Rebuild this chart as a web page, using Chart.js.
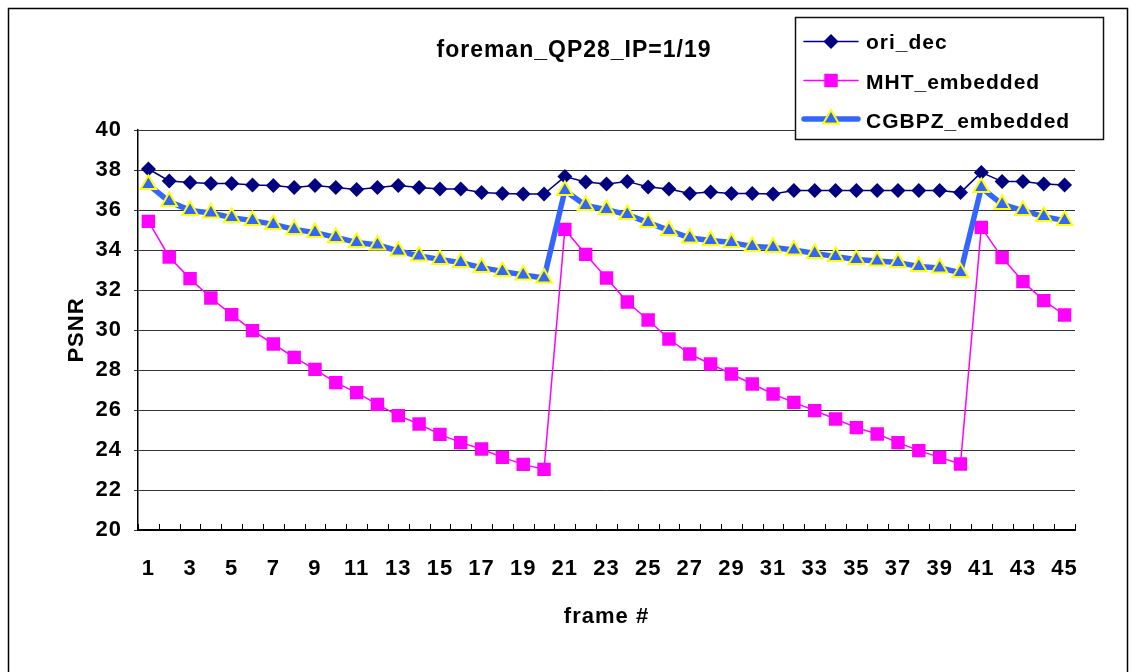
<!DOCTYPE html>
<html>
<head>
<meta charset="utf-8">
<script src="https://cdn.jsdelivr.net/npm/chart.js@4/dist/chart.umd.min.js"></script>
<style>
  html, body { margin: 0; padding: 0; background: #fff; }
  #wrap { position: absolute; left: 0; top: 0; width: 1134px; height: 672px; }
</style>
</head>
<body>
<div id="wrap"><canvas id="psnr" width="1134" height="672"></canvas></div>
<script>
// Frame indices along the x axis
const frames = ['1','2','3','4','5','6','7','8','9','10','11','12','13','14','15',
  '16','17','18','19','20','21','22','23','24','25','26','27','28','29','30',
  '31','32','33','34','35','36','37','38','39','40','41','42','43','44','45'];

// PSNR per frame (dB)
const oriDec = [38.05, 37.45, 37.38, 37.33, 37.33, 37.25, 37.22, 37.13, 37.22, 37.12,
  37.03, 37.13, 37.22, 37.13, 37.05, 37.05, 36.87, 36.83, 36.80, 36.80,
  37.67, 37.40, 37.30, 37.43, 37.15, 37.05, 36.83, 36.90, 36.82, 36.82,
  36.80, 36.98, 36.98, 36.98, 36.98, 36.98, 36.98, 36.98, 36.98, 36.87,
  37.88, 37.42, 37.42, 37.30, 37.25];

const mhtEmbedded = [35.43, 33.65, 32.57, 31.60, 30.77, 29.97, 29.30, 28.63, 28.03, 27.37,
  26.87, 26.28, 25.72, 25.30, 24.78, 24.37, 24.05, 23.63, 23.28, 23.03,
  35.03, 33.78, 32.60, 31.40, 30.50, 29.55, 28.80, 28.30, 27.80, 27.30,
  26.80, 26.38, 25.97, 25.55, 25.12, 24.80, 24.37, 23.97, 23.63, 23.30,
  35.13, 33.62, 32.42, 31.47, 30.75];

const cgbpzEmbedded = [37.27, 36.42, 35.98, 35.85, 35.62, 35.47, 35.28, 35.03, 34.87, 34.63,
  34.38, 34.25, 33.95, 33.70, 33.53, 33.37, 33.12, 32.93, 32.75, 32.60,
  36.97, 36.23, 36.02, 35.77, 35.37, 34.98, 34.60, 34.47, 34.37, 34.18,
  34.12, 34.00, 33.83, 33.67, 33.53, 33.45, 33.37, 33.18, 33.10, 32.87,
  37.12, 36.28, 35.97, 35.67, 35.47];

// Axis settings
const yMin = 20, yMax = 40, yStep = 2;
const chartTitle = 'foreman_QP28_IP=1/19';
const xTitle = 'frame #';
const yTitle = 'PSNR';

const FONT = "'Liberation Sans', Arial, Helvetica, sans-serif";
const SPACING = '1px';
Chart.defaults.font.family = FONT;
Chart.defaults.font.weight = 'bold';
Chart.defaults.color = '#000';

// Slightly wider glyph spacing for all canvas text
const spacingPlugin = {
  id: 'spacing',
  beforeUpdate(chart) { chart.ctx.letterSpacing = SPACING; },
  beforeDraw(chart) { chart.ctx.letterSpacing = SPACING; }
};

// Page frame and chart title
const framePlugin = {
  id: 'frame',
  beforeDraw(chart) {
    const c = chart.ctx;
    c.save();
    c.fillStyle = '#fff';
    c.fillRect(0, 0, chart.width, chart.height);
    c.strokeStyle = '#000';
    c.lineWidth = 1.5;
    c.strokeRect(8.5, 8.5, 1119, 700);
    c.fillStyle = '#000';
    c.font = 'bold 23px ' + FONT;
    c.letterSpacing = SPACING;
    c.textAlign = 'center';
    c.textBaseline = 'alphabetic';
    c.fillText(chartTitle, 574, 57);
    c.restore();
  }
};

// Category tick marks pointing into the plot area
const innerTicksPlugin = {
  id: 'innerTicks',
  afterDatasetsDraw(chart) {
    const xs = chart.scales.x;
    const c = chart.ctx;
    const n = xs.getLabels().length;
    const step = (xs.getPixelForValue(1) - xs.getPixelForValue(0));
    c.save();
    c.strokeStyle = '#000';
    c.lineWidth = 1;
    c.beginPath();
    for (let i = 0; i <= n; i++) {
      const x = Math.round(xs.getPixelForValue(0) - step / 2 + i * step) + 0.5;
      c.moveTo(x, xs.top);
      c.lineTo(x, xs.top - 6);
    }
    c.stroke();
    c.restore();
  }
};

// Boxed legend in the upper right corner
const boxLegendPlugin = {
  id: 'boxLegend',
  afterDraw(chart) {
    const c = chart.ctx;
    const box = { x: 795, y: 17, w: 308, h: 122 };
    const rows = [ { line: 41.5, text: 49 }, { line: 80.5, text: 89 }, { line: 119, text: 128 } ];
    c.save();
    c.fillStyle = '#fff';
    c.fillRect(box.x, box.y, box.w, box.h);
    c.strokeStyle = '#111';
    c.lineWidth = 1.5;
    c.strokeRect(box.x + 0.5, box.y + 0.5, box.w, box.h);
    chart.data.datasets.forEach((ds, i) => {
      const r = rows[i];
      c.strokeStyle = ds.borderColor;
      c.lineWidth = ds.borderWidth;
      c.lineCap = 'round';
      c.beginPath();
      c.moveTo(804, r.line);
      c.lineTo(858, r.line);
      c.stroke();
      c.fillStyle = ds.pointBackgroundColor || ds.backgroundColor;
      c.strokeStyle = ds.pointBorderColor || ds.borderColor;
      c.lineWidth = ds.pointBorderWidth || 0;
      Chart.helpers.drawPoint(c, {
        pointStyle: ds.pointStyle,
        radius: ds.pointRadius,
        rotation: 0,
        borderWidth: ds.pointBorderWidth || 0
      }, 831, r.line);
      c.fillStyle = '#000';
      c.font = 'bold 21px ' + FONT;
      c.letterSpacing = SPACING;
      c.textAlign = 'left';
      c.textBaseline = 'alphabetic';
      c.fillText(ds.label, 866, r.text);
    });
    c.restore();
  }
};

new Chart(document.getElementById('psnr'), {
  type: 'line',
  data: {
    labels: frames,
    datasets: [
      {
        label: 'ori_dec',
        data: oriDec,
        borderColor: '#000080',
        backgroundColor: '#000080',
        pointBackgroundColor: '#000080',
        borderWidth: 1.5,
        pointStyle: 'rectRot',
        pointRadius: 7.5,
        pointBorderWidth: 0,
        tension: 0,
        order: 3
      },
      {
        label: 'MHT_embedded',
        data: mhtEmbedded,
        borderColor: '#ff00ff',
        backgroundColor: '#ff00ff',
        pointBackgroundColor: '#ff00ff',
        borderWidth: 1.5,
        pointStyle: 'rect',
        pointRadius: 9.5,
        pointBorderWidth: 0,
        tension: 0,
        order: 2
      },
      {
        label: 'CGBPZ_embedded',
        data: cgbpzEmbedded,
        borderColor: '#3366ff',
        backgroundColor: '#3366ff',
        pointBackgroundColor: '#3366ff',
        pointBorderColor: '#ffff00',
        borderWidth: 5.5,
        borderJoinStyle: 'round',
        borderCapStyle: 'round',
        pointStyle: 'triangle',
        pointRadius: 9,
        pointBorderWidth: 2,
        tension: 0,
        order: 1
      }
    ]
  },
  options: {
    responsive: false,
    animation: false,
    devicePixelRatio: 1,
    layout: { padding: { left: 0, right: 59, top: 130, bottom: 0 } },
    plugins: {
      legend: { display: false },
      title: { display: false },
      tooltip: { enabled: false }
    },
    scales: {
      x: {
        type: 'category',
        offset: true,
        grid: { display: false, drawTicks: false },
        border: { color: '#000', width: 2 },
        ticks: {
          autoSkip: false,
          maxRotation: 0,
          padding: 26,
          color: '#000',
          font: { size: 22, weight: 'bold' },
          callback(value, index) { return index % 2 === 0 ? this.getLabelForValue(value) : ''; }
        },
        title: {
          display: true,
          text: xTitle,
          color: '#000',
          font: { size: 22, weight: 'bold' },
          padding: { top: 0, bottom: 42 }
        },
        afterFit(scale) { scale.height = 142; }
      },
      y: {
        min: yMin,
        max: yMax,
        ticks: {
          stepSize: yStep,
          padding: 12,
          color: '#000',
          font: { size: 22, weight: 'bold' }
        },
        grid: { color: '#333', lineWidth: 1, tickLength: 4, drawTicks: true },
        border: { color: '#000', width: 1.5 },
        title: {
          display: true,
          text: yTitle,
          color: '#000',
          font: { size: 22, weight: 'bold' },
          padding: { top: 64, bottom: 0 }
        },
        afterFit(scale) { scale.width = 138; }
      }
    }
  },
  plugins: [spacingPlugin, framePlugin, innerTicksPlugin, boxLegendPlugin]
});
</script>
</body>
</html>
